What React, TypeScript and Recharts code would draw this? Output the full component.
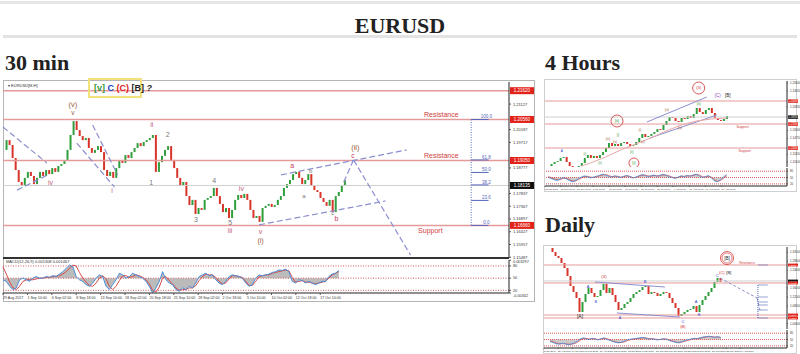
import React from 'react'
import {
  ComposedChart,
  Bar,
  Line,
  Area,
  XAxis,
  YAxis,
  ReferenceLine,
  ReferenceDot,
  Cell,
} from 'recharts'

// ---------- 30 min ----------
const mainCloses = [
  1.1944, 1.198, 1.1962, 1.1914, 1.187, 1.1826, 1.1811, 1.1841, 1.1863, 1.1848,
  1.1818, 1.1841, 1.1863, 1.1848, 1.187, 1.1855, 1.1877, 1.1863, 1.1885, 1.1892,
  1.1907, 1.1944, 1.1999, 1.205, 1.2017, 1.1995, 1.198, 1.1988, 1.1951, 1.1933,
  1.1944, 1.1958, 1.1936, 1.187, 1.1848, 1.1863, 1.1841, 1.1877, 1.1907, 1.1896,
  1.1925, 1.1914, 1.1936, 1.1951, 1.1969, 1.1958, 1.1973, 1.198, 1.1988, 1.1999,
  1.1863, 1.1899, 1.1922, 1.1944, 1.1958, 1.1907, 1.1877, 1.1841, 1.1811, 1.1826,
  1.1774, 1.1741, 1.176, 1.1708, 1.173, 1.1723, 1.176, 1.1767, 1.1774, 1.1804,
  1.1774, 1.1745, 1.1715, 1.173, 1.1693, 1.1723, 1.176, 1.1778, 1.1767, 1.1782,
  1.176, 1.1723, 1.1693, 1.1701, 1.1679, 1.173, 1.1738, 1.1745, 1.1734, 1.1741,
  1.176, 1.1774, 1.1804, 1.1818, 1.1833, 1.1855, 1.1863, 1.1841, 1.1818, 1.1833,
  1.1855, 1.1811, 1.1796, 1.1789, 1.1767, 1.1752, 1.1738, 1.176, 1.1715, 1.1774,
  1.1789, 1.1811, 1.1833,
]
const mainTicks = [
  1.21597, 1.21127, 1.20657, 1.20187, 1.19717, 1.19247, 1.18777, 1.18307,
  1.17837, 1.17367, 1.16897, 1.16427, 1.15957, 1.15487,
]
const mainRedLevels = [1.2162, 1.2056, 1.1905, 1.1666]
const mainLast = 1.1813
const fibHigh = 1.2056
const fibLow = 1.1666
const fibRatios = [100, 61.8, 50, 38.2, 23.6, 0]
const mainDates = [
  '29 Aug 2017', '1 Sep 10:00', '6 Sep 02:00', '8 Sep 18:00', '13 Sep 10:00',
  '18 Sep 02:00', '20 Sep 18:00', '25 Sep 10:00', '28 Sep 02:00', '2 Oct 18:00',
  '5 Oct 10:00', '10 Oct 02:00', '12 Oct 18:00', '17 Oct 10:00',
]
const macdFast = [
  46, 42, 30, 22, 26, 46, 50, 46, 42, 50, 54, 50, 50, 54, 52, 56, 54, 60, 66, 74,
  82, 78, 54, 46, 42, 34, 30, 38, 50, 58, 54, 30, 22, 34, 46, 62, 58, 50, 54, 62,
  58, 54, 50, 42, 30, 14, 26, 42, 66, 46, 38, 34, 22, 18, 26, 22, 30, 26, 38, 54,
  58, 62, 56, 58, 46, 38, 34, 42, 54, 58, 56, 54, 50, 38, 30, 34, 50, 58, 56, 58,
  60, 64, 66, 70, 69, 72, 66, 42, 38, 46, 44, 38, 42, 38, 34, 38, 42, 42, 54, 60,
  62, 69,
]
const macdSlow = [
  78, 60, 40, 26, 22, 30, 42, 46, 46, 46, 48, 50, 50, 52, 52, 54, 55, 56, 60, 66,
  74, 82, 80, 64, 50, 40, 32, 30, 38, 50, 56, 48, 30, 22, 30, 44, 56, 56, 52, 54,
  58, 56, 52, 46, 36, 20, 16, 28, 50, 54, 44, 36, 26, 20, 22, 22, 26, 26, 32, 44,
  54, 60, 58, 58, 52, 42, 36, 38, 48, 56, 56, 54, 52, 42, 32, 32, 42, 54, 56, 58,
  58, 62, 64, 66, 68, 70, 68, 52, 40, 42, 44, 40, 40, 38, 36, 38, 40, 42, 50, 58,
  62, 66,
]
const macdAxisLabels: Record<number, string> = { 94: '0.003297', 80: '80', 50: '50', 20: '20', 13.5: '-0.00342' }

// ---------- 4 Hours ----------
const fourCloses = [
  1.093, 1.097, 1.1009, 1.1029, 1.1088, 1.1107, 1.1009, 1.093, 1.0911, 1.0911,
  1.093, 1.0989, 1.1088, 1.1146, 1.1088, 1.1127, 1.1088, 1.1146, 1.1205, 1.1284,
  1.1382, 1.1323, 1.1363, 1.1323, 1.1382, 1.1402, 1.1363, 1.1323, 1.1343, 1.1402,
  1.1481, 1.1559, 1.15, 1.152, 1.1559, 1.1598, 1.1657, 1.1638, 1.1736, 1.1815,
  1.1893, 1.1874, 1.1815, 1.1795, 1.1874, 1.1854, 1.1913, 1.1874, 1.1952, 1.207,
  1.1991, 1.1952, 1.2031, 1.207, 1.1972, 1.1874, 1.1834, 1.1815, 1.1854, 1.1913,
]
const fourMaIndex = [11, 14, 19, 24, 29, 34, 39, 44, 49, 54, 59]
const fourMa = [1.093, 1.0989, 1.1107, 1.1245, 1.1363, 1.1481, 1.1618, 1.1736, 1.1815, 1.1854, 1.1874]
const fourTicks = [1.101, 1.1165, 1.132, 1.1475, 1.163, 1.1785, 1.194, 1.2095, 1.225, 1.2405, 1.256]
const fourRedLevels = [1.2208, 1.1756, 1.1284]
const fourLast = 1.1893
const fourDates = [
  '13 Jun 2017', '20 Jun 08:00', '27 Jun 00:00', '3 Jul 16:00', '10 Jul 08:00',
  '17 Jul 00:00', '21 Jul 16:00', '28 Jul 08:00', '4 Aug 00:00', '10 Aug 16:00',
  '17 Aug 08:00', '24 Aug 00:00',
]
const fourFast = [
  50, 46, 40, 36, 42, 50, 44, 36, 30, 34, 44, 52, 58, 54, 48, 52, 56, 60, 66, 62,
  56, 52, 58, 54, 50, 56, 60, 54, 48, 52, 58, 64, 60, 54, 58, 62, 56, 60, 66, 60,
  54, 50, 46, 52, 58, 54, 60, 56, 62, 66, 58, 50, 54, 60, 48, 34, 30, 40, 52, 64,
]
const fourSlow = [
  54, 50, 44, 40, 40, 46, 46, 40, 34, 34, 40, 48, 54, 56, 52, 50, 54, 58, 62, 64,
  60, 54, 56, 56, 52, 54, 58, 56, 50, 50, 56, 60, 62, 58, 56, 60, 58, 58, 62, 62,
  58, 52, 48, 50, 56, 56, 58, 58, 60, 64, 62, 54, 52, 56, 52, 40, 32, 36, 46, 58,
]

// ---------- Daily ----------
const dailyCloses = [
  1.3394, 1.3215, 1.3035, 1.2945, 1.2721, 1.2496, 1.2137, 1.1688, 1.1419, 1.1149,
  1.052, 1.097, 1.1329, 1.1598, 1.1374, 1.1194, 1.1239, 1.1508, 1.1778, 1.1374,
  1.1598, 1.1284, 1.097, 1.061, 1.07, 1.088, 1.097, 1.1149, 1.1329, 1.1419,
  1.1508, 1.1643, 1.1688, 1.1329, 1.1419, 1.1374, 1.1239, 1.1329, 1.1419, 1.1374,
  1.1149, 1.0925, 1.07, 1.0341, 1.0431, 1.052, 1.061, 1.0655, 1.079, 1.052,
  1.0835, 1.1059, 1.1239, 1.1419, 1.1598, 1.1868, 1.2047, 1.1868,
]
const dailyTicks = [1.0, 1.04, 1.08, 1.12, 1.16, 1.2, 1.24, 1.28, 1.32]
const dailyRedLevels = [1.2631, 1.1823, 1.0386, 1.0251]
const dailyLast = 1.1913
const dailyFib = [1.1733, 1.1194, 1.097, 1.0835, 1.061, 1.0251]
const dailyDates = [
  '2 Jun 2014', '25 Aug 2014', '14 Nov 2014', '5 Feb 2015', '29 Apr 2015',
  '22 Jul 2015', '13 Oct 2015', '5 Jan 2016', '28 Mar 2016', '20 Jun 2016',
  '12 Sep 2016', '5 Dec 2016', '27 Feb 2017', '22 May 2017', '14 Aug 2017',
]
const dailyFast = [
  40, 36, 30, 28, 32, 30, 26, 28, 34, 40, 52, 58, 54, 50, 56, 52, 48, 54, 58, 50,
  46, 40, 36, 34, 38, 44, 50, 52, 54, 56, 58, 60, 56, 52, 54, 50, 48, 52, 54, 50,
  44, 40, 36, 34, 40, 46, 50, 52, 56, 54, 58, 62, 64, 66, 62, 60, 64, 58,
]
const dailySlow = [
  44, 40, 34, 30, 30, 30, 28, 28, 30, 36, 46, 54, 56, 52, 54, 54, 50, 52, 56, 54,
  48, 42, 38, 36, 36, 40, 46, 50, 52, 54, 56, 58, 58, 54, 54, 52, 50, 50, 52, 52,
  46, 42, 38, 36, 38, 42, 46, 50, 54, 54, 56, 60, 62, 64, 64, 62, 62, 60,
]

const UP = '#2f9e3c'
const DOWN = '#d8342a'
const LEVEL = '#e59a9a'
const TAG = '#e2231a'
const TREND = '#8c8fd0'
const BROWN = '#9a5a3a'
const MAUVE = '#c2607e'
const GREY = '#7a7a7a'
const PINK = '#c8385a'
const FIB = '#5566bb'
const SANS = '"Liberation Sans", Arial, sans-serif'

const candleRows = (closes: number[], first: number) =>
  closes.map((c, i) => {
    const o = i === 0 ? c : closes[i - 1]
    return { x: first + i, body: [Math.min(o, c), Math.max(o, c)], up: c >= o }
  })

// axis labels that sit under a price tag are hidden by it anyway
const clearOf = (ticks: number[], levels: number[], gap: number) =>
  ticks.filter((t) => levels.every((l) => Math.abs(t - l) > gap))

const mainRows = candleRows(mainCloses, 0)
const macdRows = macdFast.map((v, i) => ({ x: i, fast: v, slow: macdSlow[i] }))
const fourRows = candleRows(fourCloses, 1).map((r, i) => {
  const k = fourMaIndex.indexOf(i)
  return { ...r, ma: k >= 0 ? fourMa[k] : null }
})
const fourOscRows = fourFast.map((v, i) => ({ x: i + 1, fast: v, slow: fourSlow[i] }))
const dailyRows = candleRows(dailyCloses, 2)
const dailyOscRows = dailyFast.map((v, i) => ({ x: i + 2, fast: v, slow: dailySlow[i] }))

const mainWaves: [string, number, number, string, number][] = [
  ['(v)', 22.9, 1.2113, BROWN, 7.5],
  ['v', 22.9, 1.2081, BROWN, 6.5],
  ['iv', 15.6, 1.1825, MAUVE, 7],
  ['i', 35.8, 1.1793, MAUVE, 7],
  ['ii', 48.8, 1.2036, MAUVE, 7],
  ['1', 48.6, 1.1825, GREY, 7],
  ['2', 54.0, 1.1999, GREY, 7],
  ['3', 63.3, 1.1689, GREY, 7],
  ['4', 69.3, 1.1831, GREY, 7],
  ['5', 74.5, 1.1677, GREY, 7],
  ['iii', 74.5, 1.1647, MAUVE, 7],
  ['iv', 78.2, 1.18, MAUVE, 7],
  ['v', 84.5, 1.1645, MAUVE, 7],
  ['(i)', 84.5, 1.161, BROWN, 7],
  ['a', 94.9, 1.1888, PINK, 7],
  ['b', 100.9, 1.1866, GREY, 6],
  ['a', 98.7, 1.1775, GREY, 6],
  ['c', 108.2, 1.1711, GREY, 6],
  ['b', 109.4, 1.169, PINK, 7],
  ['(ii)', 115.6, 1.1953, BROWN, 7.5],
  ['c', 114.8, 1.1921, PINK, 6.5],
]
const mainTrends: [number, number, number, number][] = [
  [0, 1.2028, 14.4, 1.1896],
  [4.6, 1.1796, 14.7, 1.1852],
  [24.2, 1.1969, 36.6, 1.1807],
  [29.4, 1.2036, 37.6, 1.1852],
  [91.2, 1.1852, 132.4, 1.1944],
  [84, 1.1668, 125.5, 1.1756],
  [111.8, 1.1826, 115, 1.1907],
  [115, 1.1907, 133.7, 1.1557],
]

const fourWaves: [string, number, number, string][] = [
  ['A', 5.6, 1.1225, '#3344cc'],
  ['(i)', 13.2, 1.1166, '#3a9a3a'],
  ['(ii)', 18.2, 1.0989, '#3a9a3a'],
  ['(iii)', 20.8, 1.1461, BROWN],
  ['[i]', 24.1, 1.1539, '#3a9a3a'],
  ['(iv)', 23.1, 1.1402, BROWN],
  ['[ii]', 28.7, 1.1205, '#3a9a3a'],
  ['(i)', 31.4, 1.1638, BROWN],
  ['(ii)', 32.3, 1.1402, BROWN],
  ['(iii)', 40.3, 1.2031, BROWN],
  ['(iv)', 44.6, 1.1677, BROWN],
  ['[iii]', 50.8, 1.2149, '#3a9a3a'],
]
const dailyWaves: [string, number, number, string, number][] = [
  ['[A]', 12, 1.0341, '#222', 5],
  ['(X)', 20, 1.2092, '#d02828', 4],
  ['A', 14.7, 1.1643, '#3344cc', 4],
  ['B', 17.3, 1.097, '#3344cc', 4],
  ['B', 33.7, 1.1868, '#3344cc', 4],
  ['A', 25.3, 1.0251, '#3344cc', 3.5],
  ['C', 46.3, 1.0072, '#3344cc', 4],
  ['(B)', 46.3, 0.9847, '#d02828', 4],
  ['A', 50.7, 1.097, '#3344cc', 4],
  ['B', 51.7, 1.0386, '#3344cc', 4],
  ['C', 57.7, 1.2137, '#3344cc', 4],
  ['(C)', 59.3, 1.2272, '#d02828', 4],
  ['[B]', 61.6, 1.2272, '#222', 4],
]

const PriceTag = (props: any) => {
  const { viewBox, text, bg, w = 24, h = 7, f = 4.5 } = props
  if (!viewBox) return null
  const x = viewBox.x + viewBox.width + 1
  return (
    <g>
      <rect x={x} y={viewBox.y - h / 2} width={w} height={h} fill={bg} />
      <text x={x + w / 2} y={viewBox.y + f * 0.36} fontSize={f} fill="#fff" textAnchor="middle">
        {text}
      </text>
    </g>
  )
}

const DateTick = (props: any) => {
  const { x, y, payload, dates, positions, size } = props
  const i = positions.indexOf(payload.value)
  return (
    <text x={x} y={y + size * 0.6} fontSize={size} fill="#333" textAnchor="start">
      {dates[i]}
    </text>
  )
}

const MacdTick = (props: any) => {
  const { x, y, payload } = props
  const v = payload.value
  const dy = v === 13.5 ? 2.6 : v === 94 ? 1.3 : 0
  return (
    <text x={x} y={y + dy + 1.3} fontSize={3.8} fill="#333" textAnchor="start">
      {macdAxisLabels[v]}
    </text>
  )
}

const mainDateTicks = mainDates.map((_, i) => i * 7.34)
const fourDateTicks = fourDates.map((_, i) => i * 5.3)
const dailyDateTicks = dailyDates.map((_, i) => i * 4.67)

function MainPrice() {
  const fibPrices = fibRatios.map((r) => fibLow + (r / 100) * (fibHigh - fibLow))
  return (
    <ComposedChart width={540} height={182} data={mainRows} margin={{ top: 2, right: 4, left: 3, bottom: 4 }} style={{ fontFamily: SANS }}>
      <XAxis type="number" dataKey="x" domain={[0, 166]} hide />
      <YAxis
        orientation="right"
        type="number"
        domain={[1.1546, 1.2194]}
        ticks={clearOf(mainTicks, [...mainRedLevels, mainLast], 0.0021)}
        interval={0}
        width={27}
        tickSize={2}
        tick={{ fontSize: 4, fill: '#333' }}
        tickLine={{ stroke: '#555' }}
        axisLine={{ stroke: '#222' }}
        tickFormatter={(v: number) => v.toFixed(5)}
      />
      <ReferenceLine y={mainLast} stroke="#cfcfcf" label={<PriceTag text="1.18135" bg="#111" />} />
      {mainRedLevels.map((p) => (
        <ReferenceLine key={p} y={p} stroke={LEVEL} strokeWidth={1.5} label={<PriceTag text={p.toFixed(5)} bg={TAG} />} />
      ))}
      <ReferenceLine segment={[{ x: 153.6, y: fibHigh }, { x: 153.6, y: fibLow }]} stroke={FIB} strokeDasharray="1 1.5" />
      {fibPrices.map((p) => (
        <ReferenceLine key={p} segment={[{ x: 153.6, y: p }, { x: 159.3, y: p }]} stroke={FIB} />
      ))}
      {fibPrices.map((p, i) => (
        <ReferenceDot key={'f' + i} x={158.6} y={p} r={0} fill="none" stroke="none"
          label={{ value: fibRatios[i].toFixed(1), position: 'top', offset: 1, fontSize: 4.5, fill: FIB }} />
      ))}
      {mainTrends.map(([x1, y1, x2, y2], i) => (
        <ReferenceLine key={'t' + i} segment={[{ x: x1, y: y1 }, { x: x2, y: y2 }]} stroke={TREND} strokeWidth={1.2} strokeDasharray="6 3" />
      ))}
      <Bar dataKey="body" barSize={2} isAnimationActive={false}>
        {mainRows.map((r, i) => (
          <Cell key={i} fill={r.up ? UP : DOWN} />
        ))}
      </Bar>
      <ReferenceDot x={143.8} y={mainRedLevels[1]} r={0} fill="none" stroke="none"
        label={{ value: 'Resistance', position: 'top', offset: 2, fontSize: 7, fill: '#cf3b3b' }} />
      <ReferenceDot x={143.8} y={mainRedLevels[2]} r={0} fill="none" stroke="none"
        label={{ value: 'Resistance', position: 'top', offset: 2, fontSize: 7, fill: '#cf3b3b' }} />
      <ReferenceDot x={140.2} y={mainRedLevels[3]} r={0} fill="none" stroke="none"
        label={{ value: 'Support', position: 'bottom', offset: 3, fontSize: 7, fill: '#cf3b3b' }} />
      {mainWaves.map(([t, x, y, c, s], i) => (
        <ReferenceDot key={'w' + i} x={x} y={y} r={0} fill="none" stroke="none"
          label={{ value: t, position: 'center', fontSize: s, fill: c }} />
      ))}
    </ComposedChart>
  )
}

function MainMacd() {
  return (
    <ComposedChart width={540} height={46} data={macdRows} margin={{ top: 2, right: 4, left: 3, bottom: 0 }} style={{ fontFamily: SANS }}>
      <XAxis
        type="number"
        dataKey="x"
        domain={[0, 152.2]}
        ticks={mainDateTicks}
        interval={0}
        height={11}
        tickSize={2}
        axisLine={{ stroke: '#222' }}
        tickLine={{ stroke: '#555' }}
        tick={<DateTick dates={mainDates} positions={mainDateTicks} size={3.6} />}
      />
      <YAxis
        orientation="right"
        type="number"
        domain={[13.5, 94.6]}
        ticks={[13.5, 20, 50, 80, 94]}
        interval={0}
        width={27}
        tickSize={2}
        tick={<MacdTick />}
        axisLine={{ stroke: '#222' }}
        tickLine={{ stroke: '#555' }}
      />
      {[80, 50, 20].map((v) => (
        <ReferenceLine key={v} y={v} stroke="#d65a5a" strokeDasharray="1 1.5" />
      ))}
      <Area dataKey="fast" baseValue={50} fill="#9e9e9e" fillOpacity={0.7} stroke="none" isAnimationActive={false} />
      <Line dataKey="slow" stroke="#d84a4a" strokeWidth={1} dot={false} isAnimationActive={false} />
      <Line dataKey="fast" stroke="#4a8fdc" strokeWidth={1} dot={false} isAnimationActive={false} />
    </ComposedChart>
  )
}

function FourPrice() {
  return (
    <ComposedChart width={260} height={88} data={fourRows} margin={{ top: 2, right: 2, left: 5, bottom: 0 }} style={{ fontFamily: SANS }}>
      <XAxis type="number" dataKey="x" domain={[0, 80]} hide />
      <YAxis
        orientation="right"
        type="number"
        domain={[1.0911, 1.2601]}
        ticks={clearOf(fourTicks, [...fourRedLevels, fourLast], 0.0068)}
        interval={0}
        width={11}
        tickSize={1}
        tick={{ fontSize: 3, fill: '#333' }}
        axisLine={{ stroke: '#222' }}
        tickLine={{ stroke: '#555' }}
        tickFormatter={(v: number) => v.toFixed(5)}
      />
      <ReferenceLine y={fourLast} stroke="#cfcfcf" label={<PriceTag text="1.18930" bg="#111" w={10} h={3.6} f={2.6} />} />
      {fourRedLevels.map((p) => (
        <ReferenceLine key={p} y={p} stroke={LEVEL} strokeWidth={1} label={<PriceTag text={p.toFixed(5)} bg={TAG} w={10} h={3.6} f={2.6} />} />
      ))}
      <ReferenceLine segment={[{ x: 33.7, y: 1.1795 }, { x: 53.5, y: 1.2286 }]} stroke={TREND} />
      <ReferenceLine segment={[{ x: 34.7, y: 1.1481 }, { x: 56.8, y: 1.1933 }]} stroke={TREND} />
      <Line dataKey="ma" stroke="#e9a7a7" strokeWidth={1} dot={false} connectNulls isAnimationActive={false} />
      <Bar dataKey="body" barSize={2} isAnimationActive={false}>
        {fourRows.map((r, i) => (
          <Cell key={i} fill={r.up ? UP : DOWN} />
        ))}
      </Bar>
      <ReferenceDot x={50.8} y={1.2463} r={6} fill="none" stroke="#d23030" strokeWidth={0.8}
        label={{ value: '(3)', position: 'center', fontSize: 4, fill: '#d23030' }} />
      <ReferenceDot x={23.8} y={1.1815} r={6} fill="none" stroke="#d23030" strokeWidth={0.8}
        label={{ value: '[ii]', position: 'center', fontSize: 4, fill: '#3a9a3a' }} />
      <ReferenceDot x={29.4} y={1.0989} r={5} fill="none" stroke="#d23030" strokeWidth={0.8}
        label={{ value: '[i]', position: 'center', fontSize: 4, fill: '#3a9a3a' }} />
      <ReferenceDot x={57.1} y={1.2325} r={0} fill="none" stroke="none"
        label={{ value: '(C)', position: 'center', fontSize: 4.5, fill: '#8a4ac0' }} />
      <ReferenceDot x={60.4} y={1.2325} r={0} fill="none" stroke="none"
        label={{ value: '[B]', position: 'center', fontSize: 4.5, fill: '#222' }} />
      <ReferenceDot x={65.3} y={1.1697} r={0} fill="none" stroke="none"
        label={{ value: 'Support', position: 'center', fontSize: 3.5, fill: '#cf3b3b' }} />
      <ReferenceDot x={66} y={1.1225} r={0} fill="none" stroke="none"
        label={{ value: 'Support', position: 'center', fontSize: 3.5, fill: '#cf3b3b' }} />
      {fourWaves.map(([t, x, y, c], i) => (
        <ReferenceDot key={'w' + i} x={x} y={y} r={0} fill="none" stroke="none"
          label={{ value: t, position: 'center', fontSize: 3.2, fill: c }} />
      ))}
    </ComposedChart>
  )
}

function MiniOsc({ rows, domainMax, first, dates, positions }: any) {
  return (
    <ComposedChart width={260} height={25} data={rows} margin={{ top: 1, right: 2, left: first, bottom: 0 }} style={{ fontFamily: SANS }}>
      <XAxis
        type="number"
        dataKey="x"
        domain={[0, domainMax]}
        ticks={positions}
        interval={0}
        height={6}
        tickSize={1}
        axisLine={{ stroke: '#222' }}
        tickLine={{ stroke: '#555' }}
        tick={<DateTick dates={dates} positions={positions} size={2.4} />}
      />
      <YAxis orientation="right" type="number" domain={[10, 95]} ticks={[20, 50, 80]} interval={0} width={11} tickSize={1}
        tick={{ fontSize: 2.8, fill: '#333' }} axisLine={{ stroke: '#222' }} tickLine={{ stroke: '#555' }} />
      {[80, 50, 20].map((v) => (
        <ReferenceLine key={v} y={v} stroke="#d65a5a" strokeDasharray="1 1" />
      ))}
      <Area dataKey="fast" baseValue={50} fill="#a8a8a8" fillOpacity={0.6} stroke="none" isAnimationActive={false} />
      <Line dataKey="slow" stroke="#d84a4a" strokeWidth={0.8} dot={false} isAnimationActive={false} />
      <Line dataKey="fast" stroke="#4a8fdc" strokeWidth={0.8} dot={false} isAnimationActive={false} />
    </ComposedChart>
  )
}

function DailyPrice() {
  return (
    <ComposedChart width={260} height={84} data={dailyRows} margin={{ top: 2, right: 2, left: 4, bottom: 0 }} style={{ fontFamily: SANS }}>
      <XAxis type="number" dataKey="x" domain={[0, 81]} hide />
      <YAxis
        orientation="right"
        type="number"
        domain={[0.9757, 1.3439]}
        ticks={clearOf(dailyTicks, [...dailyRedLevels, dailyLast], 0.0135)}
        interval={0}
        width={11}
        tickSize={1}
        tick={{ fontSize: 3, fill: '#333' }}
        axisLine={{ stroke: '#222' }}
        tickLine={{ stroke: '#555' }}
        tickFormatter={(v: number) => v.toFixed(5)}
      />
      <ReferenceLine y={dailyLast} stroke="#cfcfcf" label={<PriceTag text="1.19130" bg="#111" w={10} h={2.8} f={2.2} />} />
      {dailyRedLevels.map((p) => (
        <ReferenceLine key={p} y={p} stroke={LEVEL} strokeWidth={1} label={<PriceTag text={p.toFixed(5)} bg={TAG} w={10} h={2.8} f={2.2} />} />
      ))}
      <ReferenceLine segment={[{ x: 17, y: 1.1868 }, { x: 40.3, y: 1.1643 }]} stroke={TREND} />
      <ReferenceLine segment={[{ x: 24.3, y: 1.0475 }, { x: 45.3, y: 1.0296 }]} stroke={TREND} />
      <ReferenceLine segment={[{ x: 58.7, y: 1.2047 }, { x: 71, y: 1.1149 }]} stroke={TREND} strokeDasharray="3 2" />
      <ReferenceLine segment={[{ x: 71, y: 1.1149 }, { x: 72, y: 1.061 }]} stroke={TREND} strokeDasharray="3 2" />
      <ReferenceLine segment={[{ x: 71.3, y: dailyFib[0] }, { x: 71.3, y: dailyFib[5] }]} stroke={FIB} strokeDasharray="1 1" />
      {dailyFib.map((p) => (
        <ReferenceLine key={p} segment={[{ x: 71.3, y: p }, { x: 74.6, y: p }]} stroke={FIB} strokeWidth={0.6} />
      ))}
      <ReferenceLine segment={[{ x: 71.3, y: dailyRedLevels[0] }, { x: 74.6, y: dailyRedLevels[0] }]} stroke={FIB} strokeWidth={0.6} />
      <Bar dataKey="body" barSize={2} isAnimationActive={false}>
        {dailyRows.map((r, i) => (
          <Cell key={i} fill={r.up ? UP : DOWN} />
        ))}
      </Bar>
      <ReferenceDot x={61} y={1.2945} r={6.5} fill="none" stroke="#d23030" strokeWidth={0.8} />
      <ReferenceDot x={61} y={1.2945} r={5} fill="none" stroke="#d23030" strokeWidth={0.6}
        label={{ value: '[B]', position: 'center', fontSize: 4.5, fill: '#222' }} />
      <ReferenceDot x={67.7} y={1.2721} r={0} fill="none" stroke="none"
        label={{ value: 'Resistance', position: 'center', fontSize: 3.2, fill: '#cf3b3b' }} />
      {dailyWaves.map(([t, x, y, c, s], i) => (
        <ReferenceDot key={'w' + i} x={x} y={y} r={0} fill="none" stroke="none"
          label={{ value: t, position: 'center', fontSize: s, fill: c }} />
      ))}
    </ComposedChart>
  )
}

const heading: React.CSSProperties = {
  position: 'absolute',
  margin: 0,
  fontFamily: '"Liberation Serif", "Times New Roman", serif',
  fontWeight: 'bold',
  fontSize: 22,
  lineHeight: '22px',
  color: '#222',
  whiteSpace: 'nowrap',
}

export default function App() {
  return (
    <div style={{ position: 'absolute', left: 0, top: 0, width: 800, height: 354, background: '#fff', overflow: 'hidden' }}>
      <div style={{ position: 'absolute', left: 0, top: 1, width: 800, height: 3, background: '#e6e6e6' }} />
      <div style={{ ...heading, left: 0, top: 15, width: 800, textAlign: 'center' }}>EURUSD</div>
      <div style={{ position: 'absolute', left: 3, top: 35, width: 794, height: 3, background: '#e3e3e3' }} />
      <div style={{ ...heading, left: 5, top: 52 }}>30 min</div>
      <div style={{ ...heading, left: 545, top: 52 }}>4 Hours</div>
      <div style={{ ...heading, left: 545, top: 214 }}>Daily</div>

      {/* 30 min */}
      <div style={{ position: 'absolute', left: 3, top: 80, width: 532, height: 222, border: '1px solid #b5b5b5', boxSizing: 'border-box' }} />
      <div style={{ position: 'absolute', left: 0, top: 80 }}>
        <MainPrice />
      </div>
      <div style={{ position: 'absolute', left: 0, top: 258 }}>
        <MainMacd />
      </div>
      <div style={{ position: 'absolute', left: 3, top: 257, width: 506, height: 1.5, background: '#333' }} />
      <div style={{ position: 'absolute', left: 8, top: 83, fontFamily: SANS, fontSize: 4, color: '#333' }}>▾ EURUSD[M,H]</div>
      <div style={{ position: 'absolute', left: 6, top: 259, fontFamily: SANS, fontSize: 4, color: '#333' }}>MACD(12,26,9) 0.001308 0.001467</div>
      <div
        style={{
          position: 'absolute', left: 88, top: 78, width: 54, height: 20, border: '2px solid #f1e27e', boxSizing: 'border-box',
          fontFamily: SANS, fontSize: 9, fontWeight: 'bold', lineHeight: '16px', paddingLeft: 4, whiteSpace: 'nowrap',
        }}
      >
        <span style={{ color: '#3a9a3a' }}>[v]</span> <span style={{ color: '#2244cc' }}>C</span>{' '}
        <span style={{ color: '#dd2222' }}>(C)</span> <span style={{ color: '#222' }}>[B]</span>{' '}
        <span style={{ color: '#222', fontStyle: 'italic' }}>?</span>
      </div>

      {/* 4 Hours */}
      <div style={{ position: 'absolute', left: 544, top: 79, width: 253, height: 113, border: '1px solid #cfcfcf', boxSizing: 'border-box' }} />
      <div style={{ position: 'absolute', left: 540, top: 79 }}>
        <FourPrice />
      </div>
      <div style={{ position: 'absolute', left: 540, top: 167 }}>
        <MiniOsc rows={fourOscRows} domainMax={80} first={5} dates={fourDates} positions={fourDateTicks} />
      </div>

      {/* Daily */}
      <div style={{ position: 'absolute', left: 543, top: 245, width: 254, height: 109, border: '1px solid #cfcfcf', boxSizing: 'border-box' }} />
      <div style={{ position: 'absolute', left: 540, top: 245 }}>
        <DailyPrice />
      </div>
      <div style={{ position: 'absolute', left: 540, top: 329 }}>
        <MiniOsc rows={dailyOscRows} domainMax={81} first={4} dates={dailyDates} positions={dailyDateTicks} />
      </div>
    </div>
  )
}
